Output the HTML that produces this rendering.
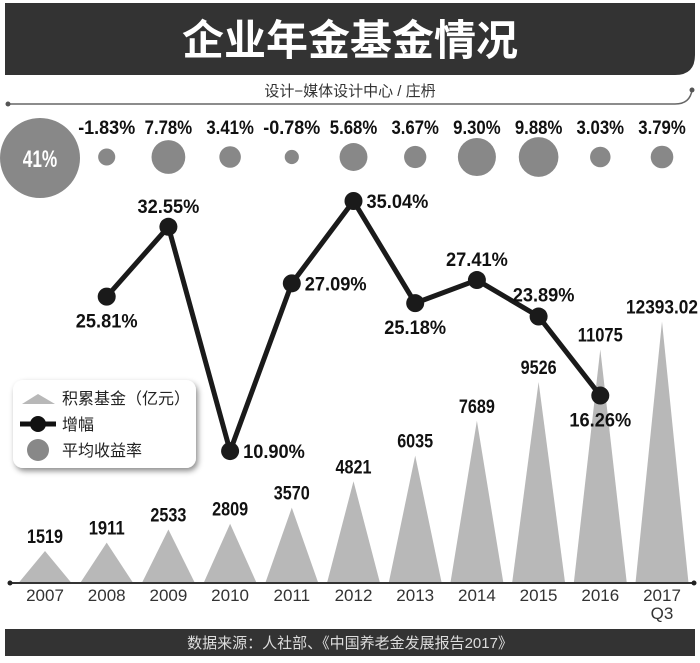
<!DOCTYPE html>
<html><head><meta charset="utf-8">
<style>
html,body{margin:0;padding:0;background:#fff;}
body{width:700px;height:663px;overflow:hidden;position:relative;font-family:"Liberation Sans","Noto Sans CJK SC",sans-serif;}
svg{position:absolute;left:0;top:0;}
.num{font-family:"Liberation Sans Narrow","Liberation Sans",sans-serif;font-weight:bold;fill:#111;}
</style></head>
<body>
<svg id="chart" width="700" height="663" viewBox="0 0 700 663">
  <defs>
    <filter id="sh" x="-20%" y="-20%" width="140%" height="150%"><feDropShadow dx="2" dy="3" stdDeviation="3" flood-color="#000" flood-opacity="0.45"/></filter>
  </defs>
  <path d="M5,3 H695 V55 Q695,75 675,75 H5 Z" fill="#333"/>
  <text x="350" y="55" text-anchor="middle" font-size="42" font-weight="bold" fill="#fff" font-family="Liberation Sans,Noto Sans CJK SC,sans-serif">企业年金基金情况</text>
  <text x="350" y="96" text-anchor="middle" font-size="15" fill="#333" font-family="Liberation Sans,Noto Sans CJK SC,sans-serif">设计−媒体设计中心 / 庄枬</text>
  <path d="M8,104 H675 Q690,104 692,90" fill="none" stroke="#666" stroke-width="1.5"/>
  <circle cx="8" cy="104" r="2.5" fill="#555"/>
  <circle cx="692" cy="90" r="2.5" fill="#555"/>
  <g id="bubbles"></g>
  <g id="tris"></g>
  <g id="line"></g>
  <line x1="10" y1="583" x2="694" y2="583" stroke="#333" stroke-width="2"/>
  <circle cx="10" cy="583" r="2.5" fill="#222"/>
  <circle cx="694" cy="583" r="2.5" fill="#222"/>
  <g id="xlabels"></g>
  <g>
    <rect x="13" y="380" width="183" height="88" rx="10" fill="#fff" filter="url(#sh)"/>
    <polygon points="22,404 55,404 38,394" fill="#b8b8b8"/>
    <text x="62" y="404" font-size="16" fill="#222">积累基金（亿元）</text>
    <line x1="20" y1="424" x2="56" y2="424" stroke="#111" stroke-width="5"/>
    <circle cx="38" cy="424" r="8" fill="#111"/>
    <text x="62" y="430" font-size="16" fill="#222">增幅</text>
    <circle cx="38" cy="450" r="11" fill="#888"/>
    <text x="62" y="456" font-size="16" fill="#222">平均收益率</text>
  </g>
  <rect x="5" y="629" width="690" height="27" fill="#333"/>
  <text x="350" y="648" text-anchor="middle" font-size="15" fill="#ddd">数据来源：人社部、《中国养老金发展报告2017》</text>
</svg>
<script>
const years = ["2007","2008","2009","2010","2011","2012","2013","2014","2015","2016","2017"];
const fundValues = [1519,1911,2533,2809,3570,4821,6035,7689,9526,11075,12393.02];
const fundLabels = ["1519","1911","2533","2809","3570","4821","6035","7689","9526","11075","12393.02"];
const growthValues = [null,25.81,32.55,10.90,27.09,35.04,25.18,27.41,23.89,16.26,null];
const returnValues = [41,-1.83,7.78,3.41,-0.78,5.68,3.67,9.30,9.88,3.03,3.79];
const growthLabelSide = [null,"below","above","right","right","right","below","above","aboveleft","below",null];

const NS="http://www.w3.org/2000/svg";
function mk(tag,attrs,parent){const e=document.createElementNS(NS,tag);for(const k in attrs)e.setAttribute(k,attrs[k]);parent.appendChild(e);return e;}
function narrow(t,perChar){t.setAttribute('textLength',(t.textContent.length*perChar).toFixed(1));t.setAttribute('lengthAdjust','spacingAndGlyphs');}
const xPos = i => 45 + i*61.7;
const baseY = 583;
const yFund = v => baseY - v*0.0211;
const yGrowth = v => 201 + (35.04 - v)*10.36;
const rBubble = v => Math.min(40, 6 + 1.4*Math.abs(v));

const tris=document.getElementById('tris');
fundValues.forEach((v,i)=>{
  const x=xPos(i), top=yFund(v);
  const p=mk('polygon',{points:`${x-26.5},${baseY} ${x+26.5},${baseY} ${x},${top}`,fill:'#b8b8b8'},tris);
  
  
  const t=mk('text',{x:x,y:top-8,'text-anchor':'middle','font-size':'19',class:'num'},tris);
  t.textContent=fundLabels[i];
  narrow(t,9);
  
  
});

const xl=document.getElementById('xlabels');
years.forEach((y,i)=>{
  const t=mk('text',{x:xPos(i),y:601,'text-anchor':'middle','font-size':'17',fill:'#333'},xl);
  t.textContent=y;
  
  
});
const q=mk('text',{x:xPos(10),y:619,'text-anchor':'middle','font-size':'17',fill:'#333'},xl);
q.textContent='Q3';



const bub=document.getElementById('bubbles');
returnValues.forEach((v,i)=>{
  const big=i===0;
  const cx=big?40:xPos(i), cy=big?158:157;
  const c=mk('circle',{cx:cx,cy:cy,r:rBubble(v),fill:'#888'},bub);
  
  
  const t=mk('text',{x:cx,y:big?167:134,'text-anchor':'middle','font-size':big?'24':'19',class:'num'},bub);
  if(big) t.setAttribute('style','fill:#fff');
  t.textContent=v.toFixed(big?0:2)+'%';
  narrow(t,big?11.5:9.5);
  
  
});

const ln=document.getElementById('line');
const pts=[];
growthValues.forEach((v,i)=>{if(v!==null)pts.push([xPos(i),yGrowth(v),v,i]);});
const pl=mk('polyline',{points:pts.map(p=>p[0]+','+p[1]).join(' '),fill:'none',stroke:'#1a1a1a','stroke-width':'5','stroke-linejoin':'round'},ln);


pts.forEach(p=>{
  const [x,y,v,i]=p;
  const c=mk('circle',{cx:x,cy:y,r:9,fill:'#1a1a1a'},ln);
  
  
  const side=growthLabelSide[i];
  let tx=x,ty=y,anchor='middle';
  if(side==='below'){ty=y+31;}
  else if(side==='above'){ty=y-14;}
  else if(side==='right'){tx=x+13;ty=y+7;anchor='start';}
  else if(side==='aboveleft'){tx=x+5;ty=y-15;}
  const t=mk('text',{x:tx,y:ty,'text-anchor':anchor,'font-size':'19',class:'num'},ln);
  t.textContent=v.toFixed(2)+'%';
  narrow(t,10.3);
  
  
});
</script>
</body></html>
